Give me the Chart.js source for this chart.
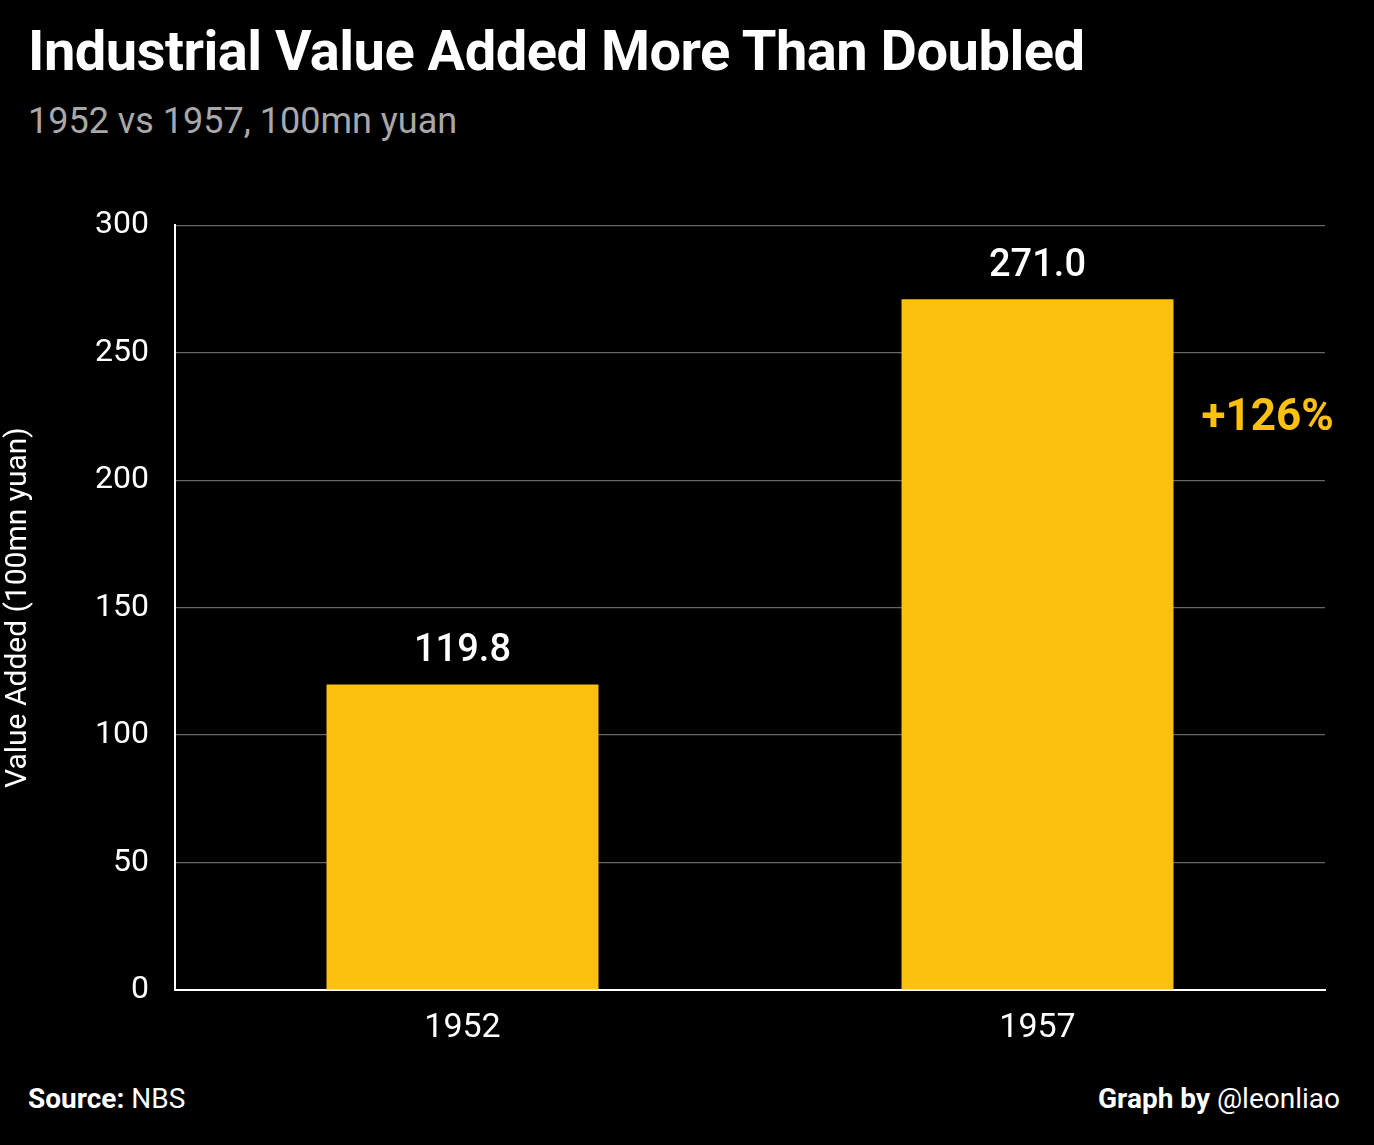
<!DOCTYPE html>
<html>
<head>
<meta charset="utf-8">
<script src="https://cdn.jsdelivr.net/npm/chart.js@4"></script>
<style>
  body { margin: 0; background: #000; width: 1374px; height: 1145px; overflow: hidden; font-family: Roboto, "Noto Sans", sans-serif; color: #fff; position: relative; }
  #title { position: absolute; left: 28px; top: 18px; font-size: 56px; font-weight: 700; letter-spacing: -0.5px; }
  #subtitle { position: absolute; left: 28px; top: 100px; font-size: 36px; color: #a8a8a8; }
  #wrap { position: absolute; left: 0; top: 180px; width: 1374px; height: 880px; }
  .foot { position: absolute; top: 1082px; font-size: 28px; }
  #src { left: 28px; }
  #by { right: 34px; }
</style>
</head>
<body>
<div id="title">Industrial Value Added More Than Doubled</div>
<div id="subtitle">1952 vs 1957, 100mn yuan</div>
<div id="wrap"><canvas id="chart"></canvas></div>
<div class="foot" id="src"><b>Source:</b> NBS</div>
<div class="foot" id="by"><b>Graph by</b> @leonliao</div>
<script>
const years = ['1952', '1957'];
const values = [119.8, 271.0];
const yTicks = [0, 50, 100, 150, 200, 250, 300];
const growthLabel = '+126%';

const labelPlugin = {
  id: 'labels',
  afterDatasetsDraw(chart) {
    const ctx = chart.ctx;
    const meta = chart.getDatasetMeta(0);
    ctx.save();
    ctx.fillStyle = '#fff';
    ctx.font = '500 38px Roboto';
    ctx.textAlign = 'center';
    ctx.textBaseline = 'bottom';
    meta.data.forEach((bar, i) => {
      ctx.fillText(values[i].toFixed(1), bar.x, bar.y - 14);
    });
    const last = meta.data[meta.data.length - 1];
    ctx.fillStyle = '#fcc10f';
    ctx.font = '700 44px Roboto';
    ctx.textAlign = 'left';
    ctx.textBaseline = 'middle';
    ctx.fillText(growthLabel, last.x + last.width / 2 + 28, chart.scales.y.getPixelForValue(224));
    ctx.restore();
  }
};

new Chart(document.getElementById('chart'), {
  type: 'bar',
  data: {
    labels: years,
    datasets: [{
      data: values,
      backgroundColor: '#fcc10f',
      categoryPercentage: 1,
      barPercentage: 0.473
    }]
  },
  options: {
    responsive: true,
    maintainAspectRatio: false,
    animation: false,
    layout: { padding: { top: 28, right: 49, left: 0, bottom: 0 } },
    plugins: { legend: { display: false }, tooltip: { enabled: false } },
    scales: {
      x: {
        afterFit(s) { s.height = 70; },
        grid: { display: false },
        border: { color: '#fff', width: 2 },
        ticks: { color: '#fff', font: { family: 'Roboto', size: 34 }, padding: 10 }
      },
      y: {
        min: 0,
        max: 300,
        afterFit(s) { s.width = 175; },
        afterBuildTicks(s) { s.ticks = yTicks.map(v => ({ value: v })); },
        grid: { color: 'rgba(255,255,255,0.4)', tickLength: 0, lineWidth: 1.2 },
        border: { color: '#fff', width: 2, dash: [] },
        ticks: { color: '#fff', font: { family: 'Roboto', size: 32 }, padding: 26 },
        title: { display: true, text: 'Value Added (100mn yuan)', color: '#fff', font: { family: 'Roboto', size: 30 }, padding: 0 }
      }
    }
  },
  plugins: [labelPlugin, {
    id: 'dots',
    beforeDraw(chart) { chart.options.scales.y.grid.borderDash = [2, 4]; }
  }]
});
</script>
</body>
</html>
